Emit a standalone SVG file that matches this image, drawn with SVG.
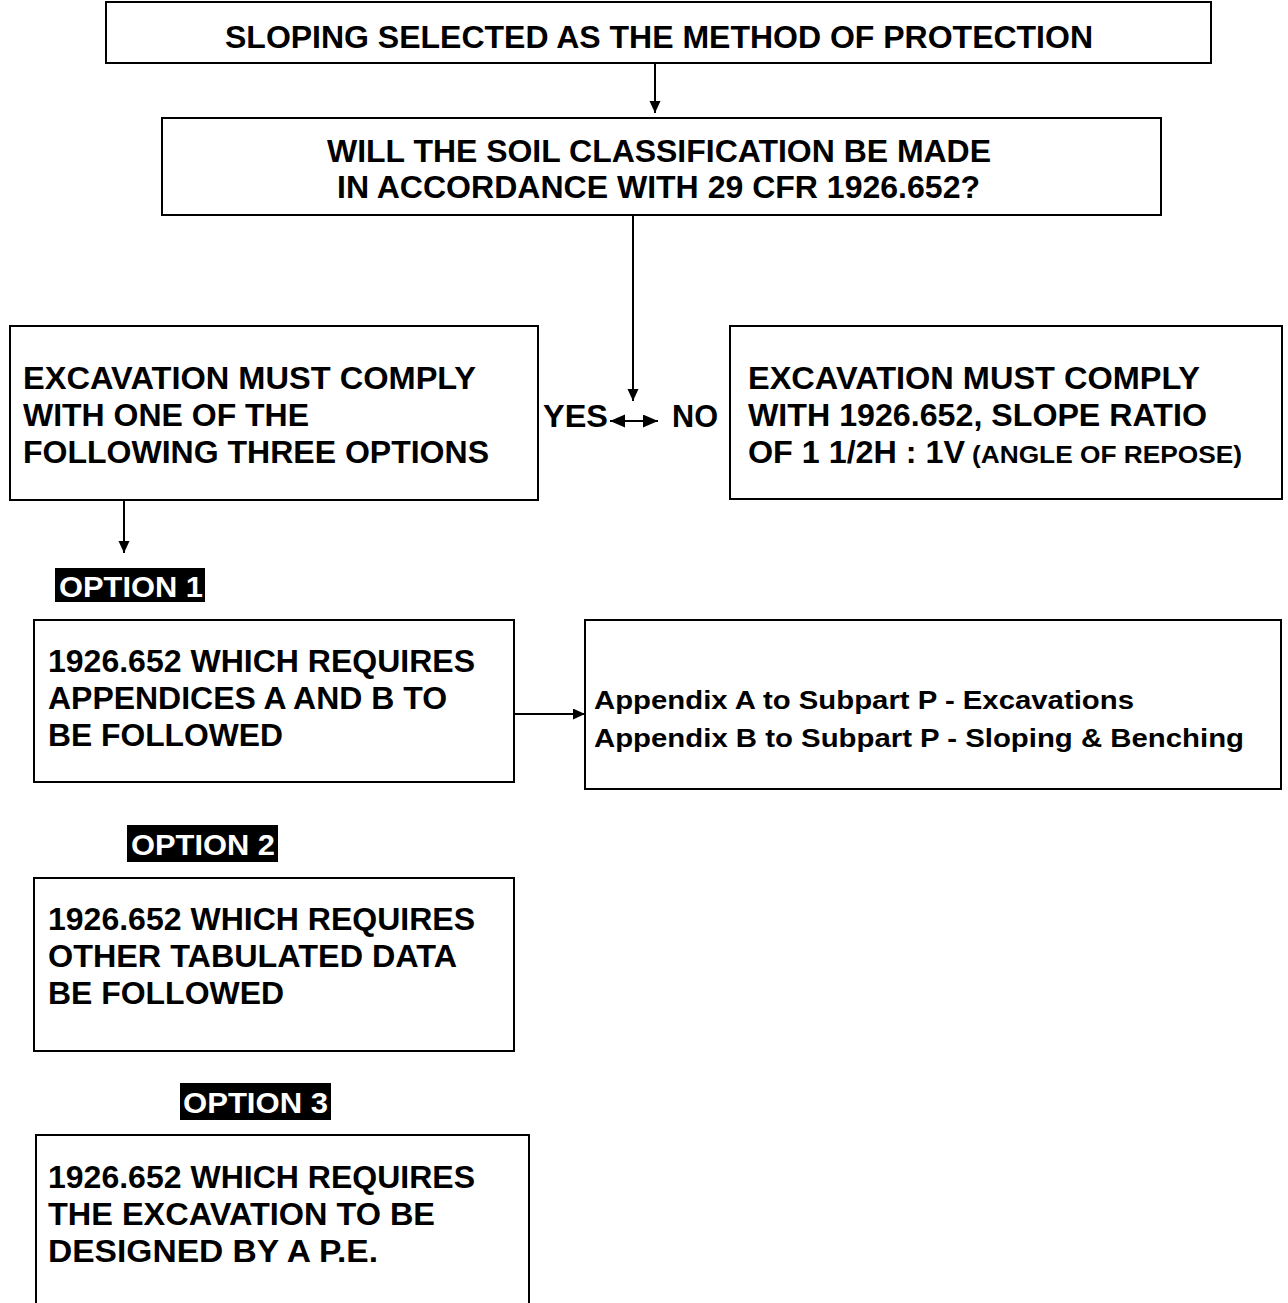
<svg xmlns="http://www.w3.org/2000/svg" width="1288" height="1303" viewBox="0 0 1288 1303">
<style>
.box{fill:#fff;stroke:#000;stroke-width:2}
.t{font-family:"Liberation Sans",Arial,sans-serif;font-weight:bold;font-size:32px;fill:#000}
.s{font-size:23px}
.a{font-family:"Liberation Sans",Arial,sans-serif;font-weight:bold;font-size:26px;fill:#000}
.opt{font-family:"Liberation Sans",Arial,sans-serif;font-weight:bold;font-size:29px;fill:#fff}
.c{stroke:#000;stroke-width:2;fill:none}
</style>
<defs>
<marker id="ah" markerUnits="userSpaceOnUse" markerWidth="13" markerHeight="12" refX="12" refY="5.5" orient="auto-start-reverse">
<path d="M0,0 L12,5.5 L0,11 z" fill="#000"/>
</marker>
<marker id="ah2" markerUnits="userSpaceOnUse" markerWidth="16" markerHeight="14" refX="15" refY="6.5" orient="auto-start-reverse">
<path d="M0,0 L15,6.5 L0,13 z" fill="#000"/>
</marker>
</defs>
<rect width="1288" height="1303" fill="#fff"/>
<g id="connectors">
<line class="c" x1="655" y1="63" x2="655" y2="113" marker-end="url(#ah)"/>
<line class="c" x1="633" y1="208" x2="633" y2="401" marker-end="url(#ah)"/>
<line class="c" x1="610" y1="421" x2="658" y2="421" marker-start="url(#ah2)" marker-end="url(#ah2)"/>
<line class="c" x1="124" y1="493" x2="124" y2="553" marker-end="url(#ah)"/>
<line class="c" x1="514" y1="714" x2="585" y2="714" marker-end="url(#ah)"/>
</g>
<g id="n-top">
<rect class="box" x="106" y="2" width="1105" height="61"/>
<text class="t" x="225" y="48" textLength="868" lengthAdjust="spacingAndGlyphs">SLOPING SELECTED AS THE METHOD OF PROTECTION</text>
</g>
<g id="n-question">
<rect class="box" x="162" y="118" width="999" height="97"/>
<text class="t" x="327" y="162" textLength="664" lengthAdjust="spacingAndGlyphs">WILL THE SOIL CLASSIFICATION BE MADE</text>
<text class="t" x="337" y="198" textLength="643" lengthAdjust="spacingAndGlyphs">IN ACCORDANCE WITH 29 CFR 1926.652?</text>
</g>
<g id="n-yes-label">
<text class="t" x="543" y="427" textLength="65" lengthAdjust="spacingAndGlyphs">YES</text>
</g>
<g id="n-no-label">
<text class="t" x="672" y="427" textLength="46" lengthAdjust="spacingAndGlyphs">NO</text>
</g>
<g id="n-yes">
<rect class="box" x="10" y="326" width="528" height="174"/>
<text class="t" x="23" y="389" textLength="453" lengthAdjust="spacingAndGlyphs">EXCAVATION MUST COMPLY</text>
<text class="t" x="23" y="426" textLength="286" lengthAdjust="spacingAndGlyphs">WITH ONE OF THE</text>
<text class="t" x="23" y="463" textLength="466" lengthAdjust="spacingAndGlyphs">FOLLOWING THREE OPTIONS</text>
</g>
<g id="n-no">
<rect class="box" x="730" y="326" width="552" height="173"/>
<text class="t" x="748" y="389" textLength="452" lengthAdjust="spacingAndGlyphs">EXCAVATION MUST COMPLY</text>
<text class="t" x="748" y="426" textLength="459" lengthAdjust="spacingAndGlyphs">WITH 1926.652, SLOPE RATIO</text>
<text class="t" x="748" y="463"><tspan textLength="217" lengthAdjust="spacingAndGlyphs">OF 1 1/2H : 1V</tspan><tspan class="s" x="972" textLength="270" lengthAdjust="spacingAndGlyphs">(ANGLE OF REPOSE)</tspan></text>
</g>
<g id="n-option1-label">
<rect x="55" y="568" width="150" height="34" fill="#000"/>
<text class="opt" x="59" y="597" textLength="144" lengthAdjust="spacingAndGlyphs">OPTION 1</text>
</g>
<g id="n-option1">
<rect class="box" x="34" y="620" width="480" height="162"/>
<text class="t" x="48" y="672" textLength="427" lengthAdjust="spacingAndGlyphs">1926.652 WHICH REQUIRES</text>
<text class="t" x="48" y="709" textLength="399" lengthAdjust="spacingAndGlyphs">APPENDICES A AND B TO</text>
<text class="t" x="48" y="746" textLength="235" lengthAdjust="spacingAndGlyphs">BE FOLLOWED</text>
</g>
<g id="n-appendix">
<rect class="box" x="585" y="620" width="696" height="169"/>
<text class="a" x="594" y="709" textLength="540" lengthAdjust="spacingAndGlyphs">Appendix A to Subpart P - Excavations</text>
<text class="a" x="594" y="747" textLength="650" lengthAdjust="spacingAndGlyphs">Appendix B to Subpart P - Sloping &amp; Benching</text>
</g>
<g id="n-option2-label">
<rect x="127" y="825" width="151" height="37" fill="#000"/>
<text class="opt" x="131" y="855" textLength="144" lengthAdjust="spacingAndGlyphs">OPTION 2</text>
</g>
<g id="n-option2">
<rect class="box" x="34" y="878" width="480" height="173"/>
<text class="t" x="48" y="930" textLength="427" lengthAdjust="spacingAndGlyphs">1926.652 WHICH REQUIRES</text>
<text class="t" x="48" y="967" textLength="409" lengthAdjust="spacingAndGlyphs">OTHER TABULATED DATA</text>
<text class="t" x="48" y="1004" textLength="236" lengthAdjust="spacingAndGlyphs">BE FOLLOWED</text>
</g>
<g id="n-option3-label">
<rect x="180" y="1083" width="151" height="37" fill="#000"/>
<text class="opt" x="183" y="1113" textLength="145" lengthAdjust="spacingAndGlyphs">OPTION 3</text>
</g>
<g id="n-option3">
<rect class="box" x="36" y="1135" width="493" height="200"/>
<text class="t" x="48" y="1188" textLength="427" lengthAdjust="spacingAndGlyphs">1926.652 WHICH REQUIRES</text>
<text class="t" x="48" y="1225" textLength="387" lengthAdjust="spacingAndGlyphs">THE EXCAVATION TO BE</text>
<text class="t" x="48" y="1262" textLength="330" lengthAdjust="spacingAndGlyphs">DESIGNED BY A P.E.</text>
</g>
</svg>
